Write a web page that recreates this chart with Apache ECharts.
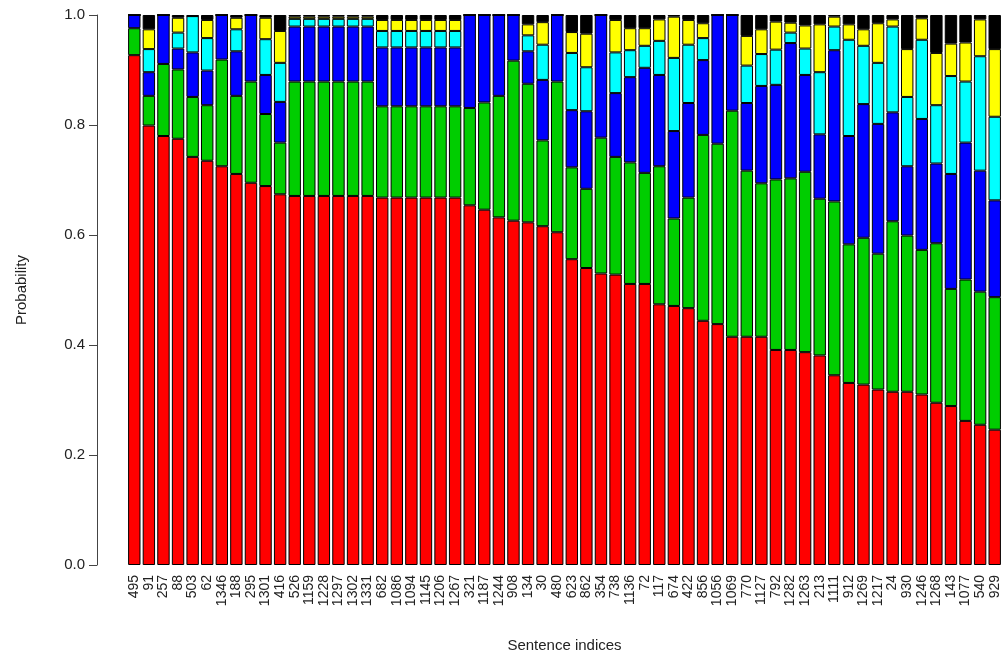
<!DOCTYPE html>
<html>
<head>
<meta charset="utf-8">
<script src="https://cdn.jsdelivr.net/npm/echarts@6/dist/echarts.min.js"></script>
<style>
  html, body { margin: 0; padding: 0; background: #fff; }
  #chart { width: 1002px; height: 654px; }
</style>
</head>
<body>
<div id="chart"></div>
<script>
const sentences = ["495", "91", "257", "88", "503", "62", "1346", "188", "295", "1301",
  "416", "526", "1159", "1228", "1297", "1302", "1331", "682", "1086", "1094",
  "1145", "1206", "1267", "321", "1187", "1244", "908", "134", "30", "480",
  "623", "862", "354", "738", "1136", "72", "117", "674", "422", "856",
  "1056", "1069", "770", "1127", "792", "1282", "1263", "213", "1111", "912",
  "1269", "1217", "24", "930", "1246", "1268", "143", "1077", "540", "929"];

const redVals = [0.927, 0.799, 0.780, 0.775, 0.742, 0.735, 0.725, 0.711, 0.695, 0.689,
  0.674, 0.671, 0.671, 0.671, 0.671, 0.671, 0.671, 0.668, 0.668, 0.668,
  0.668, 0.668, 0.668, 0.654, 0.646, 0.632, 0.626, 0.623, 0.616, 0.605,
  0.556, 0.540, 0.530, 0.528, 0.511, 0.511, 0.474, 0.471, 0.467, 0.444,
  0.438, 0.415, 0.415, 0.415, 0.391, 0.391, 0.387, 0.381, 0.345, 0.331,
  0.328, 0.319, 0.315, 0.315, 0.310, 0.295, 0.289, 0.262, 0.255, 0.246];

const greenVals = [0.049, 0.054, 0.131, 0.126, 0.109, 0.101, 0.194, 0.142, 0.184, 0.131,
  0.094, 0.208, 0.208, 0.208, 0.208, 0.208, 0.208, 0.166, 0.166, 0.166,
  0.166, 0.166, 0.166, 0.177, 0.195, 0.221, 0.291, 0.252, 0.156, 0.274,
  0.167, 0.144, 0.247, 0.214, 0.221, 0.202, 0.251, 0.159, 0.201, 0.338,
  0.328, 0.411, 0.302, 0.279, 0.310, 0.312, 0.328, 0.285, 0.316, 0.252,
  0.267, 0.247, 0.310, 0.284, 0.263, 0.290, 0.213, 0.257, 0.242, 0.241];

const blueVals = [0.024, 0.043, 0.089, 0.038, 0.081, 0.063, 0.081, 0.081, 0.121, 0.071,
  0.074, 0.100, 0.100, 0.100, 0.100, 0.100, 0.100, 0.107, 0.107, 0.107,
  0.107, 0.107, 0.107, 0.169, 0.159, 0.147, 0.083, 0.059, 0.110, 0.121,
  0.104, 0.141, 0.223, 0.116, 0.155, 0.191, 0.166, 0.159, 0.172, 0.136,
  0.234, 0.174, 0.123, 0.177, 0.172, 0.246, 0.176, 0.117, 0.275, 0.197,
  0.243, 0.236, 0.198, 0.126, 0.238, 0.145, 0.209, 0.249, 0.220, 0.176];

const cyanVals = [0, 0.042, 0, 0.029, 0.066, 0.059, 0, 0.040, 0, 0.065,
  0.071, 0.014, 0.014, 0.014, 0.014, 0.014, 0.014, 0.030, 0.030, 0.030,
  0.030, 0.030, 0.030, 0, 0, 0, 0, 0.029, 0.064, 0,
  0.104, 0.080, 0, 0.074, 0.049, 0.040, 0.062, 0.133, 0.106, 0.040,
  0, 0, 0.068, 0.058, 0.064, 0.019, 0.048, 0.113, 0.043, 0.175,
  0.106, 0.111, 0.156, 0.126, 0.144, 0.106, 0.178, 0.111, 0.208, 0.152];

const yellowVals = [0, 0.036, 0, 0.027, 0, 0.033, 0, 0.021, 0, 0.039,
  0.058, 0.004, 0.004, 0.004, 0.004, 0.004, 0.004, 0.020, 0.020, 0.020,
  0.020, 0.020, 0.020, 0, 0, 0, 0, 0.020, 0.041, 0,
  0.038, 0.061, 0, 0.059, 0.040, 0.032, 0.039, 0.075, 0.045, 0.027,
  0, 0, 0.054, 0.045, 0.051, 0.018, 0.042, 0.087, 0.018, 0.028,
  0.030, 0.072, 0.013, 0.087, 0.039, 0.095, 0.059, 0.071, 0.067, 0.123];

const blackVals = [0, 0.026, 0, 0.005, 0.002, 0.009, 0, 0.005, 0, 0.005,
  0.029, 0.003, 0.003, 0.003, 0.003, 0.003, 0.003, 0.009, 0.009, 0.009,
  0.009, 0.009, 0.009, 0, 0, 0, 0, 0.017, 0.013, 0,
  0.031, 0.034, 0, 0.009, 0.024, 0.024, 0.008, 0.003, 0.009, 0.015,
  0, 0, 0.038, 0.026, 0.012, 0.014, 0.019, 0.017, 0.003, 0.017,
  0.026, 0.015, 0.008, 0.062, 0.006, 0.069, 0.052, 0.050, 0.008, 0.062];

const yTicks = [0, 0.2, 0.4, 0.6, 0.8, 1.0];

const layers = [
  { name: "red", data: redVals, color: "#ff0000" },
  { name: "green", data: greenVals, color: "#00cd00" },
  { name: "blue", data: blueVals, color: "#0000ff" },
  { name: "cyan", data: cyanVals, color: "#00ffff" },
  { name: "yellow", data: yellowVals, color: "#ffff00" },
  { name: "black", data: blackVals, color: "#000000" }
];

const chart = echarts.init(document.getElementById("chart"));
const font = "Liberation Sans, Arial, sans-serif";

chart.setOption({
  animation: false,
  backgroundColor: "#fff",
  grid: { left: 127, right: 0, top: 15, bottom: 89, outerBoundsMode: "none", containLabel: false },
  xAxis: {
    type: "category",
    data: sentences,
    name: "Sentence indices",
    nameLocation: "middle",
    nameGap: 73,
    nameTextStyle: { fontFamily: font, fontSize: 15, color: "#222" },
    axisLine: { show: false },
    axisTick: { show: false },
    axisLabel: {
      interval: 0,
      rotate: 90,
      margin: 10,
      fontFamily: font,
      fontSize: 14,
      color: "#222"
    }
  },
  yAxis: {
    type: "value",
    min: yTicks[0],
    max: yTicks[yTicks.length - 1],
    interval: 0.2,
    offset: 30,
    name: "Probability",
    nameLocation: "middle",
    nameRotate: 90,
    nameGap: 68,
    nameTextStyle: { fontFamily: font, fontSize: 15, color: "#222" },
    axisLine: { show: true, lineStyle: { color: "#444", width: 1 } },
    axisTick: { show: true, length: 8, lineStyle: { color: "#444" } },
    splitLine: { show: false },
    axisLabel: {
      margin: 12,
      fontFamily: font,
      fontSize: 15,
      color: "#222",
      formatter: (v) => v.toFixed(1)
    }
  },
  series: layers.map((layer) => ({
    name: layer.name,
    type: "bar",
    stack: "total",
    data: layer.data,
    barCategoryGap: "15%",
    itemStyle: {
      color: layer.color,
      borderColor: "#000",
      borderWidth: 1
    }
  }))
});
</script>
</body>
</html>
